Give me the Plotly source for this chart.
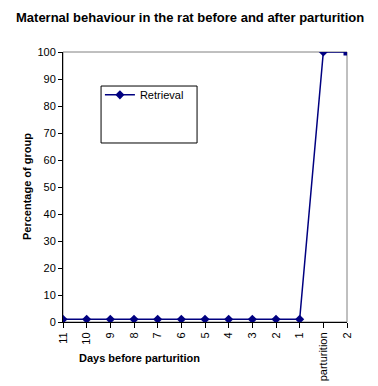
import plotly.graph_objects as go

tick_labels = ["11", "10", "9", "8", "7", "6", "5", "4", "3", "2", "1", "parturition", "2"]
x_pos = list(range(len(tick_labels)))
retrieval = [1, 1, 1, 1, 1, 1, 1, 1, 1, 1, 1, 100, 100]
marker_symbols = ["diamond"] * 12 + ["square"]

FONT = "Liberation Sans, Arial, sans-serif"
NAVY = "#000080"

fig = go.Figure()
fig.add_trace(go.Scatter(
    x=x_pos, y=retrieval, mode="lines+markers", name="Retrieval",
    line=dict(color=NAVY, width=1.5),
    marker=dict(color=NAVY, size=7, symbol=marker_symbols),
))

fig.update_layout(
    width=370, height=378,
    margin=dict(l=55, r=31, t=44, b=64, autoexpand=False),
    paper_bgcolor="white", plot_bgcolor="white",
    font=dict(family=FONT, size=11, color="black"),
    showlegend=True,
    legend=dict(x=0.13, y=0.895, xanchor="left", yanchor="top",
                bgcolor="rgba(0,0,0,0)", font=dict(size=11, family=FONT),
                itemwidth=30, tracegroupgap=0),
    xaxis=dict(range=[0, 12], tickmode="array", tickvals=x_pos, ticktext=tick_labels,
               tickangle=-90, showgrid=False, zeroline=False, automargin=False,
               showline=True, linecolor="black", linewidth=1,
               ticks="outside", ticklen=5, tickcolor="black", tickwidth=1,
               tickfont=dict(size=11)),
    yaxis=dict(range=[0, 100], tickmode="array", tickvals=list(range(0, 101, 10)),
               showgrid=False, zeroline=False, automargin=False,
               showline=True, linecolor="black", linewidth=1,
               ticks="outside", ticklen=4, tickcolor="black", tickwidth=1,
               tickfont=dict(size=11)),
    shapes=[
        dict(type="rect", xref="paper", yref="paper", x0=0, x1=1, y0=0, y1=1,
             line=dict(color="#808080", width=1), layer="below"),
        dict(type="rect", xref="paper", yref="paper", x0=0.134, x1=0.472, y0=0.663, y1=0.874,
             line=dict(color="black", width=1), fillcolor="white", layer="above"),
    ],
    annotations=[
        dict(text="<b>Maternal behaviour in the rat before and after parturition</b>",
             xref="paper", yref="paper", x=0.447, y=1, yshift=35, showarrow=False,
             xanchor="center", yanchor="middle", font=dict(size=13, family=FONT)),
        dict(text="<b>Percentage of group</b>", xref="paper", yref="paper",
             x=0, xshift=-36, y=0.5, textangle=-90, showarrow=False,
             xanchor="center", yanchor="middle", font=dict(size=11, family=FONT)),
        dict(text="<b>Days before parturition</b>", xref="paper", yref="paper",
             x=0.27, y=0, yshift=-36, showarrow=False,
             xanchor="center", yanchor="middle", font=dict(size=11, family=FONT)),
    ],
)

fig.write_html("out.html")
